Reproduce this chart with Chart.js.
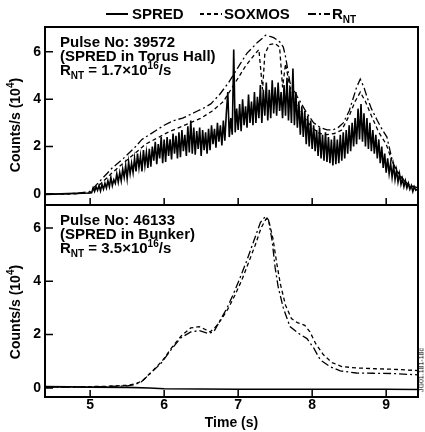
<!DOCTYPE html>
<html>
<head>
<meta charset="utf-8">
<script src="https://cdn.jsdelivr.net/npm/chart.js@4.4.1/dist/chart.umd.min.js"></script>
<style>
  html, body { margin: 0; padding: 0; background: #fff; }
  #wrap { position: relative; width: 425px; height: 432px; overflow: hidden;
          font-family: "Liberation Sans", Arial, sans-serif; font-weight: bold; color: #000; }
  canvas { position: absolute; left: 0; }
  .txt { position: absolute; white-space: nowrap; }
  .leg { font-size: 15px; line-height: 15px; top: 6px; }
  .note { font-size: 15px; line-height: 14px; left: 60px; }
  .sub { font-size: 10px; position: relative; top: 4px; }
  .sup { font-size: 10px; position: relative; top: -6px; }
  .ytitle { font-size: 14px; line-height: 14px; transform: translate(-50%, -50%) rotate(-90deg); }
  .side { font-size: 7px; font-weight: normal; transform: translate(-50%, -50%) rotate(-90deg); }
</style>
</head>
<body>
<div id="wrap">
  <canvas id="top" width="425" height="206" style="top:0"></canvas>
  <canvas id="bottom" width="425" height="232" style="top:200px"></canvas>

  <svg id="legLines" class="txt" style="left:0;top:0" width="425" height="28"></svg>
  <div class="txt leg" style="left:132px">SPRED</div>
  <div class="txt leg" style="left:224px">SOXMOS</div>
  <div class="txt leg" style="left:332px">R<span class="sub">NT</span></div>

  <div class="txt note" style="top:35px">Pulse No: 39572<br>(SPRED in Torus Hall)<br>R<span class="sub">NT</span> = 1.7×10<span class="sup">16</span>/s</div>
  <div class="txt note" style="top:213px">Pulse No: 46133<br>(SPRED in Bunker)<br>R<span class="sub">NT</span> = 3.5×10<span class="sup">16</span>/s</div>

  <div class="txt ytitle" style="left:16px;top:125px">Counts/s (10<span class="sup">4</span>)</div>
  <div class="txt ytitle" style="left:16px;top:312px">Counts/s (10<span class="sup">4</span>)</div>
  <div class="txt side" style="left:421px;top:370px">JG01.181-18c</div>
</div>
<script>
const xTicks = [5, 6, 7, 8, 9];
const yTicks = [0, 2, 4, 6];

// Pulse 39572, SPRED in Torus Hall
const spredTimeA = [4.40, 4.60, 4.80, 5.00,
  5.02, 5.04, 5.06, 5.08, 5.10, 5.12, 5.14, 5.16, 5.18, 5.20,
  5.22, 5.24, 5.26, 5.28, 5.30, 5.32, 5.34, 5.36, 5.38, 5.40,
  5.42, 5.44, 5.46, 5.48, 5.50, 5.52, 5.54, 5.56, 5.58, 5.60,
  5.62, 5.64, 5.66, 5.68, 5.70, 5.72, 5.74, 5.76, 5.78, 5.80,
  5.82, 5.84, 5.86, 5.88, 5.90, 5.92, 5.94, 5.96, 5.98, 6.00,
  6.02, 6.04, 6.06, 6.08, 6.10, 6.12, 6.14, 6.16, 6.18, 6.20,
  6.22, 6.24, 6.26, 6.28, 6.30, 6.32, 6.34, 6.36, 6.38, 6.40,
  6.42, 6.44, 6.46, 6.48, 6.50, 6.52, 6.54, 6.56, 6.58, 6.60,
  6.62, 6.64, 6.66, 6.68, 6.70, 6.72, 6.74, 6.76, 6.78, 6.80,
  6.82, 6.84, 6.86, 6.88, 6.90, 6.92, 6.94, 6.96, 6.98, 7.00,
  7.02, 7.04, 7.06, 7.08, 7.10, 7.12, 7.14, 7.16, 7.18, 7.20,
  7.22, 7.24, 7.26, 7.28, 7.30, 7.32, 7.34, 7.36, 7.38, 7.40,
  7.42, 7.44, 7.46, 7.48, 7.50, 7.52, 7.54, 7.56, 7.58, 7.60,
  7.62, 7.64, 7.66, 7.68, 7.70, 7.72, 7.74, 7.76, 7.78, 7.80,
  7.82, 7.84, 7.86, 7.88, 7.90, 7.92, 7.94, 7.96, 7.98, 8.00,
  8.02, 8.04, 8.06, 8.08, 8.10, 8.12, 8.14, 8.16, 8.18, 8.20,
  8.22, 8.24, 8.26, 8.28, 8.30, 8.32, 8.34, 8.36, 8.38, 8.40,
  8.42, 8.44, 8.46, 8.48, 8.50, 8.52, 8.54, 8.56, 8.58, 8.60,
  8.62, 8.64, 8.66, 8.68, 8.70, 8.72, 8.74, 8.76, 8.78, 8.80,
  8.82, 8.84, 8.86, 8.88, 8.90, 8.92, 8.94, 8.96, 8.98, 9.00,
  9.02, 9.04, 9.06, 9.08, 9.10, 9.12, 9.14, 9.16, 9.18, 9.20,
  9.22, 9.24, 9.26, 9.28, 9.30, 9.32, 9.34, 9.36, 9.38, 9.40, 9.42];
const spredA = [-0.02, 0.0, 0.02, 0.04,
  0.05, 0.25, 0.1, 0.3, 0.15, 0.35, 0.12, 0.4, 0.2, 0.45,
  0.25, 0.55, 0.3, 0.7, 0.35, 0.6, 0.45, 0.85, 0.5, 0.9,
  0.55, 1.05, 0.7, 1.2, 0.65, 1.35, 0.85, 1.3, 0.9, 1.5,
  0.95, 1.7, 1.1, 1.6, 0.95, 1.85, 1.2, 1.75, 1.1, 1.9,
  1.15, 2.0, 1.4, 2.2, 1.25, 2.1, 1.5, 2.4, 1.3, 2.3,
  1.35, 2.4, 1.6, 2.3, 1.45, 2.55, 1.7, 2.45, 1.5, 2.6,
  1.55, 2.7, 1.8, 2.5, 1.6, 2.85, 1.75, 3.1, 1.7, 2.8,
  1.65, 2.65, 1.9, 2.8, 1.6, 2.7, 1.85, 2.6, 1.7, 2.75,
  1.85, 2.9, 2.1, 2.75, 1.95, 3.0, 2.2, 2.9, 2.05, 3.1,
  2.25, 3.4, 4.3, 2.4, 3.2, 2.5, 6.1, 2.6, 3.6, 2.7,
  3.8, 2.65, 4.0, 2.9, 3.7, 2.8, 4.2, 3.0, 3.9, 2.9,
  4.3, 3.0, 4.1, 3.2, 4.6, 3.0, 4.4, 3.3, 4.7, 3.1,
  4.4, 3.2, 4.8, 3.4, 4.5, 3.3, 4.7, 3.5, 4.3, 3.2,
  4.6, 3.3, 4.9, 3.1, 4.5, 3.0, 5.3, 2.9, 4.3, 2.8,
  3.9, 2.5, 3.7, 2.4, 3.5, 2.1, 3.3, 2.0, 3.1, 1.9,
  2.9, 1.8, 2.7, 1.6, 2.8, 1.5, 2.5, 1.4, 2.6, 1.35,
  2.4, 1.3, 2.3, 1.2, 2.45, 1.25, 2.3, 1.3, 2.5, 1.4,
  2.6, 1.5, 2.7, 1.7, 2.9, 1.8, 3.0, 2.0, 3.2, 2.1,
  3.6, 2.3, 3.8, 2.2, 3.4, 2.0, 3.2, 1.9, 3.0, 1.8,
  2.7, 1.7, 2.5, 1.5, 2.3, 1.3, 2.0, 1.1, 1.7, 0.9,
  1.5, 0.85, 1.3, 0.7, 1.2, 0.6, 1.0, 0.5, 0.85, 0.4,
  0.65, 0.3, 0.55, 0.25, 0.45, 0.2, 0.35, 0.1, 0.3, 0.15, 0.2];
const soxmosTimeA = [4.40, 4.80, 5.00, 5.15, 5.30, 5.45, 5.60, 5.75, 5.90, 6.05, 6.20, 6.35,
  6.50, 6.65, 6.80, 6.90, 7.00, 7.10, 7.20, 7.28, 7.33, 7.36, 7.42, 7.50, 7.56, 7.60,
  7.64, 7.70, 7.80, 7.90, 8.00, 8.10, 8.20, 8.30, 8.40, 8.50, 8.58, 8.65, 8.72, 8.80,
  8.90, 9.00, 9.10, 9.20, 9.30, 9.43];
const soxmosA = [-0.02, 0.0, 0.05, 0.45, 0.9, 1.3, 1.7, 2.1, 2.35, 2.6, 2.8, 3.0,
  3.2, 3.5, 3.9, 4.4, 4.9, 5.4, 5.8, 6.1, 4.4, 5.9, 6.3, 6.35, 6.2, 4.5,
  5.5, 4.5, 3.8, 3.2, 2.8, 2.55, 2.5, 2.55, 2.7, 3.3, 3.9, 4.3, 3.9, 3.3,
  2.6, 2.1, 1.2, 0.7, 0.4, 0.2];
const rntTimeA = [4.40, 4.60, 4.80, 5.00, 5.15, 5.30, 5.45, 5.60, 5.70, 5.80, 5.90, 6.00,
  6.13, 6.25, 6.35, 6.45, 6.55, 6.63, 6.75, 6.87, 6.95, 7.03, 7.12, 7.20, 7.26, 7.32,
  7.37, 7.43, 7.48, 7.53, 7.57, 7.61, 7.64, 7.70, 7.80, 7.93, 8.02, 8.11, 8.20, 8.28,
  8.35, 8.42, 8.50, 8.55, 8.60, 8.65, 8.70, 8.74, 8.80, 8.88, 8.95, 9.01, 9.09, 9.18,
  9.28, 9.43];
const rntA = [0.0, 0.0, 0.02, 0.1, 0.6, 1.1, 1.5, 1.95, 2.3, 2.5, 2.7, 2.9,
  3.1, 3.2, 3.35, 3.5, 3.65, 3.8, 4.2, 4.7, 5.1, 5.5, 5.95, 6.2, 6.4, 6.55,
  6.7, 6.65, 6.6, 6.5, 6.4, 6.2, 5.8, 4.7, 4.1, 3.4, 3.0, 2.8, 2.7, 2.7,
  2.8, 3.0, 3.5, 4.0, 4.5, 4.85, 4.5, 4.1, 3.6, 3.1, 2.7, 2.4, 1.3, 0.8,
  0.43, 0.25];

// Pulse 46133, SPRED in Bunker
const spredTimeB = [4.40, 5.00, 5.50, 5.80, 6.00, 7.00, 8.00, 9.00, 9.43];
const spredB = [0.05, 0.03, 0.02, 0.0, -0.03, -0.05, -0.05, -0.05, -0.06];
const soxmosTimeB = [4.40, 4.80, 5.20, 5.50, 5.60, 5.70, 5.83, 5.97, 6.10, 6.23, 6.36, 6.47,
  6.55, 6.62, 6.70, 6.78, 6.87, 6.96, 7.05, 7.14, 7.23, 7.31, 7.38, 7.42, 7.47, 7.52,
  7.57, 7.64, 7.72, 7.80, 7.90, 7.97, 8.05, 8.15, 8.27, 8.40, 8.60, 8.85, 9.10, 9.43];
const soxmosB = [0.03, 0.04, 0.06, 0.1, 0.15, 0.25, 0.6, 1.0, 1.5, 1.95, 2.25, 2.3,
  2.2, 2.1, 2.3, 2.6, 3.0, 3.5, 4.05, 4.7, 5.35, 6.0, 6.35, 6.2, 5.6, 4.7,
  3.9, 3.1, 2.6, 2.45, 2.35, 2.1, 1.65, 1.25, 0.95, 0.8, 0.75, 0.72, 0.7, 0.65];
const rntTimeB = [4.40, 4.80, 5.20, 5.50, 5.60, 5.69, 5.82, 5.96, 6.09, 6.22, 6.36, 6.47,
  6.59, 6.67, 6.76, 6.85, 6.94, 7.03, 7.12, 7.21, 7.30, 7.37, 7.41, 7.46, 7.50, 7.54,
  7.61, 7.70, 7.84, 7.93, 8.02, 8.11, 8.24, 8.38, 8.60, 8.82, 9.09, 9.43];
const rntB = [0.02, 0.03, 0.05, 0.08, 0.12, 0.22, 0.56, 0.93, 1.42, 1.87, 2.1, 2.15,
  2.05, 2.1, 2.55, 3.0, 3.55, 4.16, 4.8, 5.5, 6.2, 6.44, 6.3, 5.5, 4.5, 3.8,
  3.0, 2.3, 2.0, 1.85, 1.5, 1.05, 0.8, 0.64, 0.56, 0.55, 0.54, 0.49];

const dashSox = [4, 3];
const dashRnt = [8, 3, 2, 3];

const pts = (ts, vs) => ts.map((t, i) => ({x: t, y: vs[i]}));

const series = (spT, sp, soT, so, rT, r, spWidth) => [
    {label: 'SPRED', data: pts(spT, sp), borderColor: '#000', borderWidth: spWidth},
    {label: 'SOXMOS', data: pts(soT, so), borderColor: '#000', borderWidth: 1.3, borderDash: dashSox},
    {label: 'RNT', data: pts(rT, r), borderColor: '#000', borderWidth: 1.3, borderDash: dashRnt}
]

// border box and inward tick marks
const framePlugin = {
    id: 'frame',
    afterDraw(chart) {
        const {ctx, chartArea: a} = chart
        const x = chart.scales.x, y = chart.scales.y
        ctx.save()
        ctx.strokeStyle = '#000'
        ctx.lineWidth = 2
        ctx.strokeRect(a.left, a.top, a.right - a.left, a.bottom - a.top)
        ctx.lineWidth = 1.5
        ctx.beginPath()
        yTicks.forEach(v => {
            const py = y.getPixelForValue(v)
            ctx.moveTo(a.left, py)
            ctx.lineTo(a.left + 8, py)
        })
        xTicks.forEach(v => {
            const px = x.getPixelForValue(v)
            ctx.moveTo(px, a.bottom)
            ctx.lineTo(px, a.bottom - 7)
        })
        ctx.stroke()
        ctx.restore()
    }
}

const tickFont = {family: '"Liberation Sans", Arial, sans-serif', size: 14, weight: 'bold'}

const makePanel = (id, datasets, yMin, yMax, padding, showX) => new Chart(
    document.getElementById(id),
    {
        type: 'line',
        data: {datasets},
        options: {
            responsive: false,
            animation: false,
            devicePixelRatio: 1,
            layout: {padding},
            plugins: {
                legend: {display: false},
                tooltip: {enabled: false}
            },
            elements: {
                point: {radius: 0},
                line: {tension: 0}
            },
            scales: {
                x: {
                    type: 'linear',
                    min: 4.39,
                    max: 9.43,
                    display: showX,
                    grid: {display: false, drawTicks: false, tickLength: 0},
                    border: {display: false},
                    afterBuildTicks: s => { s.ticks = xTicks.map(v => ({value: v})) },
                    afterFit: s => {
                        s.height = showX ? 35 : 0
                        s.paddingLeft = 0
                        s.paddingRight = 0
                    },
                    ticks: {color: '#000', font: tickFont, padding: 0, maxRotation: 0},
                    title: {display: true, text: 'Time (s)', color: '#000', font: tickFont, padding: {top: 0, bottom: 0}}
                },
                y: {
                    min: yMin,
                    max: yMax,
                    grid: {display: false, drawTicks: false, tickLength: 0},
                    border: {display: false},
                    afterBuildTicks: s => { s.ticks = yTicks.map(v => ({value: v})) },
                    afterFit: s => {
                        s.width = 45
                        s.paddingTop = 0
                        s.paddingBottom = 0
                    },
                    ticks: {color: '#000', font: tickFont, padding: 4}
                }
            }
        },
        plugins: [framePlugin]
    }
)

makePanel('top', series(spredTimeA, spredA, soxmosTimeA, soxmosA, rntTimeA, rntA, 1.6),
    -0.47, 7.05, {top: 27, right: 7, bottom: 1, left: 0}, false)
makePanel('bottom', series(spredTimeB, spredB, soxmosTimeB, soxmosB, rntTimeB, rntB, 1.6),
    -0.34, 6.86, {top: 5, right: 7, bottom: 0, left: 0}, true)

// legend line samples, same dash patterns as the datasets
const legLines = [[106, []], [200, dashSox], [308, dashRnt]]
const svg = document.getElementById('legLines')
legLines.forEach(([x0, dash]) => {
    const l = document.createElementNS('http://www.w3.org/2000/svg', 'line')
    l.setAttribute('x1', x0)
    l.setAttribute('x2', x0 + 22)
    l.setAttribute('y1', 14)
    l.setAttribute('y2', 14)
    l.setAttribute('stroke', '#000')
    l.setAttribute('stroke-width', 2)
    if (dash.length) l.setAttribute('stroke-dasharray', dash.join(' '))
    svg.appendChild(l)
})
</script>
</body>
</html>
